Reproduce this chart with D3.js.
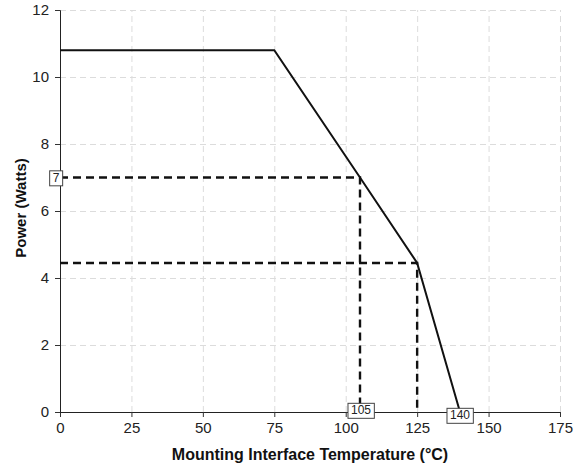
<!DOCTYPE html>
<html>
<head>
<meta charset="utf-8">
<script src="https://cdn.jsdelivr.net/npm/d3@7"></script>
<style>
  body { margin: 0; background: #fff; font-family: "Liberation Sans", Arial, sans-serif; }
  .axis .tick text { font-size: 15px; fill: #222; font-family: "Liberation Sans", Arial, sans-serif; }
  .axis .tick line { stroke: #333; }
  .axis .domain { stroke: #222; }
  .grid line { stroke: #dcdcdc; stroke-dasharray: 6,4; }
  .grid .domain { display: none; }
</style>
</head>
<body>
<svg id="chart" width="578" height="465"></svg>
<script>
// derating curve
var temps  = [0, 75, 105, 125, 140];
var powers = [10.8, 10.8, 7, 4.45, 0];

// reference (dashed) points
var refTemps  = [105, 125];
var refPowers = [7, 4.45];

var xTicks = [0, 25, 50, 75, 100, 125, 150, 175];
var yTicks = [0, 2, 4, 6, 8, 10, 12];

var margin = { top: 10, right: 18, bottom: 53, left: 60 };
var width = 578 - margin.left - margin.right,
    height = 465 - margin.top - margin.bottom;

var svg = d3.select('#chart');
var chart = svg.append('g')
    .attr('transform', 'translate(' + margin.left + ',' + margin.top + ')');

var x = d3.scaleLinear().domain([0, 175]).range([0, width]);
var y = d3.scaleLinear().domain([0, 12]).range([height, 0]);

// grid
chart.append('g').attr('class', 'grid')
    .attr('transform', 'translate(0,' + height + ')')
    .call(d3.axisBottom(x).tickValues(xTicks).tickSize(-height).tickFormat(''));
chart.append('g').attr('class', 'grid')
    .call(d3.axisLeft(y).tickValues(yTicks).tickSize(-width).tickFormat(''));

// axes
chart.append('g').attr('class', 'axis')
    .attr('transform', 'translate(0,' + height + ')')
    .call(d3.axisBottom(x).tickValues(xTicks).tickSize(5).tickPadding(5));
chart.append('g').attr('class', 'axis')
    .call(d3.axisLeft(y).tickValues(yTicks).tickSize(5).tickPadding(6));

// dashed reference lines
refTemps.forEach(function(t, i) {
  chart.append('path')
      .attr('d', d3.line()([[x(0), y(refPowers[i])], [x(t), y(refPowers[i])], [x(t), y(0)]]))
      .attr('fill', 'none')
      .attr('stroke', '#111')
      .attr('stroke-width', 2.4)
      .attr('stroke-dasharray', '8,5');
});

// curve
chart.append('path')
    .datum(d3.zip(temps, powers))
    .attr('d', d3.line().x(function(d) { return x(d[0]); }).y(function(d) { return y(d[1]); }))
    .attr('fill', 'none')
    .attr('stroke', '#111')
    .attr('stroke-width', 2);

// boxed labels
function boxLabel(cx, cy, txt) {
  var g = chart.append('g').attr('transform', 'translate(' + cx + ',' + cy + ')');
  var t = g.append('text')
      .attr('text-anchor', 'middle')
      .attr('dy', '0.36em')
      .style('font-size', '12px')
      .attr('fill', '#222')
      .text(txt);
  var bb = t.node().getBBox();
  g.insert('rect', 'text')
      .attr('x', bb.x - 3).attr('y', bb.y)
      .attr('width', bb.width + 6).attr('height', bb.height + 1)
      .attr('fill', '#fff').attr('stroke', '#444').attr('stroke-width', 1);
}
boxLabel(-4, y(7), '7');
boxLabel(x(105) + 1, height - 2, '105');
boxLabel(x(140), height + 3, '140');

// axis titles
chart.append('text')
    .attr('x', width / 2)
    .attr('y', height + 48)
    .attr('text-anchor', 'middle')
    .style('font-size', '16px')
    .style('font-weight', 'bold')
    .attr('fill', '#111')
    .text('Mounting Interface Temperature (°C)');

chart.append('text')
    .attr('transform', 'rotate(-90)')
    .attr('x', -208 + margin.top)
    .attr('y', -34)
    .attr('text-anchor', 'middle')
    .style('font-size', '15px')
    .style('font-weight', 'bold')
    .attr('fill', '#111')
    .text('Power (Watts)');
</script>
</body>
</html>
